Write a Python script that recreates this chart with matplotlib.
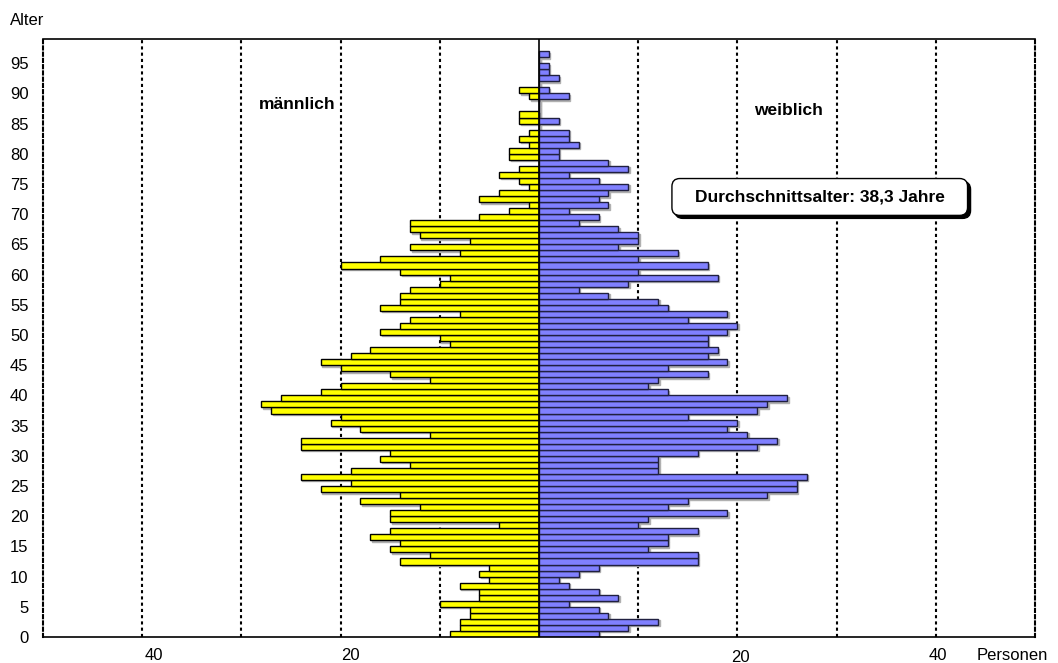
import matplotlib.pyplot as plt
from matplotlib import transforms
from matplotlib.patches import FancyBboxPatch

plt.rcParams['font.family'] = ['Liberation Sans', 'DejaVu Sans']

# Alter 0..96, Anzahl Personen je Jahrgang
alter = list(range(0, 97))
maennlich = [9, 8, 8, 7, 7, 10, 6, 6, 8, 5,
             6, 5, 14, 11, 15, 14, 17, 15, 4, 15,
             15, 12, 18, 14, 22, 19, 24, 19, 13, 16,
             15, 24, 24, 11, 18, 21, 20, 27, 28, 26,
             22, 20, 11, 15, 20, 22, 19, 17, 9, 10,
             16, 14, 13, 8, 16, 14, 14, 13, 10, 9,
             14, 20, 16, 8, 13, 7, 12, 13, 13, 6,
             3, 1, 6, 4, 1, 2, 4, 2, 0, 3,
             3, 1, 2, 1, 0, 2, 2, 0, 0, 1,
             2, 0, 0, 0, 0, 0, 0]
weiblich = [6, 9, 12, 7, 6, 3, 8, 6, 3, 2,
            4, 6, 16, 16, 11, 13, 13, 16, 10, 11,
            19, 13, 15, 23, 26, 26, 27, 12, 12, 12,
            16, 22, 24, 21, 19, 20, 15, 22, 23, 25,
            13, 11, 12, 17, 13, 19, 17, 18, 17, 17,
            19, 20, 15, 19, 13, 12, 7, 4, 9, 18,
            10, 17, 10, 14, 8, 10, 10, 8, 4, 6,
            3, 7, 6, 7, 9, 6, 3, 9, 7, 2,
            2, 4, 3, 3, 0, 2, 0, 0, 0, 3,
            1, 0, 2, 1, 1, 0, 1]

y_ticks = list(range(0, 100, 5))
x_labels = ['40', '20', '20', '40']
durchschnitt = '38,3'

W, H = 1058, 663
fig = plt.figure(figsize=(W / 100, H / 100), dpi=100)
ax = fig.add_axes([43 / W, 26 / H, 992 / W, 598 / H])

# leichter Schatten hinter den Balken
shadow = transforms.offset_copy(ax.transData, fig=fig, x=1.5, y=-1.5, units='dots')
ax.barh(alter, [-m for m in maennlich], height=1, align='edge', color='#b0b0b0',
        edgecolor='#b0b0b0', linewidth=1, transform=shadow, zorder=1)
ax.barh(alter, weiblich, height=1, align='edge', color='#b0b0b0',
        edgecolor='#b0b0b0', linewidth=1, transform=shadow, zorder=1)

ax.barh(alter, [-m for m in maennlich], height=1, align='edge', color='#ffff00',
        edgecolor='black', linewidth=1, zorder=2)
ax.barh(alter, weiblich, height=1, align='edge', color='#8080ff',
        edgecolor='#202040', linewidth=1, zorder=2)

ax.set_xlim(-50, 50)
ax.set_ylim(0, 99)

ax.set_xticks([-40, -30, -20, -10, 10, 20, 30, 40])
ax.xaxis.grid(True, color='black', linestyle=(0, (1.5, 1.5)), linewidth=1.5)
ax.set_axisbelow(True)
ax.tick_params(axis='x', length=0, labelbottom=False)
ax.axvline(0, color='black', linewidth=1.2, zorder=3)

ax.set_yticks(y_ticks)
ax.set_yticklabels([str(t) for t in y_ticks], fontsize=12)
ax.tick_params(axis='y', length=0, pad=10.5)

for s in ['left', 'right']:
    ax.spines[s].set_linestyle((0, (1.5, 1.5)))
    ax.spines[s].set_linewidth(1.5)
ax.spines['top'].set_linewidth(1.2)
ax.spines['bottom'].set_linewidth(1.2)

# Achsenbeschriftungen
fig.text(10 / W, 1 - 25 / H, 'Alter', fontsize=12, ha='left', va='baseline')
fig.text(154 / W, 1 - 660 / H, x_labels[0], fontsize=12, ha='center', va='baseline')
fig.text(350 / W, 1 - 660 / H, x_labels[1], fontsize=12, ha='center', va='baseline')
fig.text(740 / W, 1 - 662 / H, x_labels[2], fontsize=12, ha='center', va='baseline')
fig.text(938 / W, 1 - 660 / H, x_labels[3], fontsize=12, ha='center', va='baseline')
fig.text(1012 / W, 1 - 660 / H, 'Personen', fontsize=12, ha='center', va='baseline')

ax.text(-24.4, 88.2, 'männlich', fontsize=12.5, fontweight='bold', ha='center', va='center')
ax.text(25.2, 87.1, 'weiblich', fontsize=12.5, fontweight='bold', ha='center', va='center')

# Kasten mit Durchschnittsalter (abgerundet, mit Schatten)
asp = (992 / 100) / (598 / 99)
bx0, bx1, by0, by1 = 13.4, 43.2, 69.8, 75.9
box_shadow = transforms.offset_copy(ax.transData, fig=fig, x=3, y=-3, units='dots')
ax.add_patch(FancyBboxPatch((bx0, by0), bx1 - bx0, by1 - by0,
                            boxstyle='round,pad=0,rounding_size=0.8', mutation_aspect=asp,
                            fc='black', ec='black', lw=1, transform=box_shadow, zorder=4))
ax.add_patch(FancyBboxPatch((bx0, by0), bx1 - bx0, by1 - by0,
                            boxstyle='round,pad=0,rounding_size=0.8', mutation_aspect=asp,
                            fc='white', ec='black', lw=1, zorder=5))
ax.text((bx0 + bx1) / 2, (by0 + by1) / 2, 'Durchschnittsalter: ' + durchschnitt + ' Jahre',
        fontsize=12.5, fontweight='bold', ha='center', va='center', zorder=6)

fig.savefig('out.png', dpi=100)
